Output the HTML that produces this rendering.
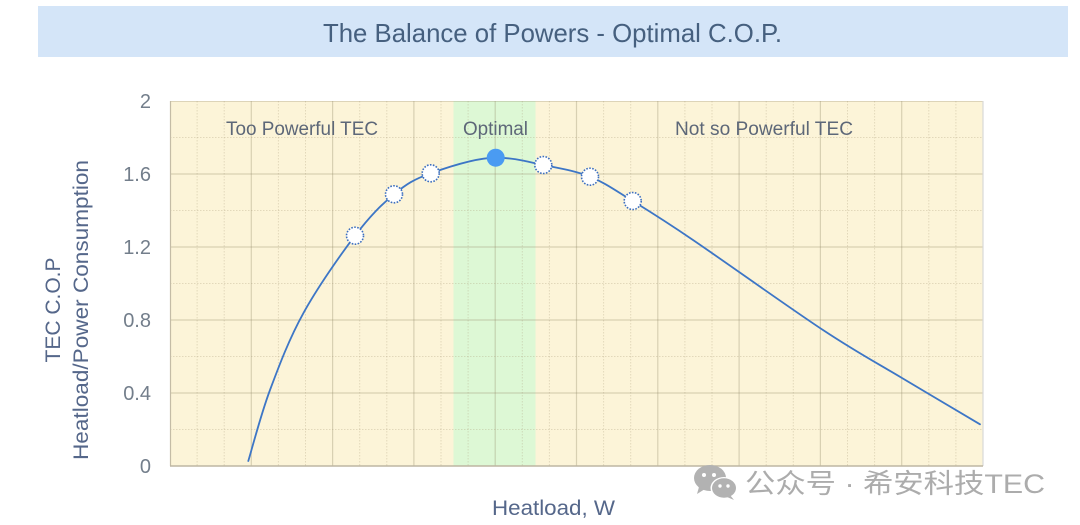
<!DOCTYPE html>
<html>
<head>
<meta charset="utf-8">
<style>
html,body{margin:0;padding:0;background:#ffffff;}
svg{display:block;}
text{font-family:"Liberation Sans","Noto Sans CJK SC",sans-serif;}
</style>
</head>
<body>
<svg width="1080" height="525" viewBox="0 0 1080 525" xmlns="http://www.w3.org/2000/svg">
  <!-- title banner -->
  <rect x="38" y="6" width="1030" height="51" fill="#d4e5f8"/>
  <text x="323" y="42" font-size="26" fill="#46607f" textLength="459" lengthAdjust="spacingAndGlyphs">The Balance of Powers - Optimal C.O.P.</text>

  <!-- plot background -->
  <rect x="170" y="101" width="813" height="365" fill="#fcf4d8"/>
  <rect x="453.5" y="101" width="82" height="365" fill="#ddf8d5"/>

  <!-- minor grid (dotted) -->
  <g stroke="rgba(170,160,125,0.32)" stroke-width="1" stroke-dasharray="1.5,1.5">
    <line x1="197.1" y1="101" x2="197.1" y2="466"/><line x1="224.2" y1="101" x2="224.2" y2="466"/>
    <line x1="278.4" y1="101" x2="278.4" y2="466"/><line x1="305.5" y1="101" x2="305.5" y2="466"/>
    <line x1="359.7" y1="101" x2="359.7" y2="466"/><line x1="386.8" y1="101" x2="386.8" y2="466"/>
    <line x1="441" y1="101" x2="441" y2="466"/><line x1="468.1" y1="101" x2="468.1" y2="466"/>
    <line x1="522.3" y1="101" x2="522.3" y2="466"/><line x1="549.4" y1="101" x2="549.4" y2="466"/>
    <line x1="603.6" y1="101" x2="603.6" y2="466"/><line x1="630.7" y1="101" x2="630.7" y2="466"/>
    <line x1="684.9" y1="101" x2="684.9" y2="466"/><line x1="712" y1="101" x2="712" y2="466"/>
    <line x1="766.2" y1="101" x2="766.2" y2="466"/><line x1="793.3" y1="101" x2="793.3" y2="466"/>
    <line x1="847.5" y1="101" x2="847.5" y2="466"/><line x1="874.6" y1="101" x2="874.6" y2="466"/>
    <line x1="928.8" y1="101" x2="928.8" y2="466"/><line x1="955.9" y1="101" x2="955.9" y2="466"/>
    <line x1="170" y1="137.5" x2="983" y2="137.5"/>
    <line x1="170" y1="210.5" x2="983" y2="210.5"/>
    <line x1="170" y1="283.5" x2="983" y2="283.5"/>
    <line x1="170" y1="356.5" x2="983" y2="356.5"/>
    <line x1="170" y1="429.5" x2="983" y2="429.5"/>
  </g>
  <!-- major grid -->
  <g stroke="rgba(150,140,110,0.35)" stroke-width="1.2">
    <line x1="251.3" y1="101" x2="251.3" y2="466"/>
    <line x1="332.6" y1="101" x2="332.6" y2="466"/>
    <line x1="413.9" y1="101" x2="413.9" y2="466"/>
    <line x1="495.2" y1="101" x2="495.2" y2="466"/>
    <line x1="576.5" y1="101" x2="576.5" y2="466"/>
    <line x1="657.8" y1="101" x2="657.8" y2="466"/>
    <line x1="739.1" y1="101" x2="739.1" y2="466"/>
    <line x1="820.4" y1="101" x2="820.4" y2="466"/>
    <line x1="901.7" y1="101" x2="901.7" y2="466"/>
    <line x1="170" y1="174" x2="983" y2="174"/>
    <line x1="170" y1="247" x2="983" y2="247"/>
    <line x1="170" y1="320" x2="983" y2="320"/>
    <line x1="170" y1="393" x2="983" y2="393"/>
  </g>
  <!-- borders -->
  <line x1="170" y1="101.5" x2="983" y2="101.5" stroke="rgba(150,140,110,0.3)" stroke-width="1"/>
  <line x1="983" y1="101" x2="983" y2="466" stroke="#d9d9d9" stroke-width="1.2"/>
  <line x1="170.5" y1="101" x2="170.5" y2="466" stroke="#c4bca6" stroke-width="1.2"/>
  <line x1="170" y1="466" x2="983" y2="466" stroke="#bdb6a2" stroke-width="1.4"/>

  <!-- tick labels -->
  <g font-size="20" fill="#737e8b" text-anchor="end">
    <text x="151" y="108">2</text>
    <text x="151" y="181">1.6</text>
    <text x="151" y="254">1.2</text>
    <text x="151" y="327">0.8</text>
    <text x="151" y="400">0.4</text>
    <text x="151" y="473">0</text>
  </g>

  <!-- region labels -->
  <g font-size="19" fill="#5d6778">
    <text x="226" y="135" textLength="152" lengthAdjust="spacingAndGlyphs">Too Powerful TEC</text>
    <text x="463" y="135" textLength="65" lengthAdjust="spacingAndGlyphs">Optimal</text>
    <text x="675" y="135" textLength="178" lengthAdjust="spacingAndGlyphs">Not so Powerful TEC</text>
  </g>

  <!-- axis titles -->
  <text x="492" y="515" font-size="21" fill="#55678a" textLength="123" lengthAdjust="spacingAndGlyphs">Heatload, W</text>
  <text transform="translate(60,310) rotate(-90)" text-anchor="middle" font-size="21" fill="#55678a">TEC C.O.P</text>
  <text transform="translate(88,310) rotate(-90)" text-anchor="middle" font-size="21" fill="#55678a" textLength="300" lengthAdjust="spacingAndGlyphs">Heatload/Power Consumption</text>

  <!-- curve -->
  <path fill="none" stroke="#3d76c6" stroke-width="1.8" stroke-linecap="round"
    d="M248.3,461
       C251.9,449.2 260.8,414.6 270,390
       C279.2,365.4 289.1,339 303.3,313.3
       C317.5,287.6 339.9,255.5 355,235.7
       C370.1,215.9 381.4,204.7 394,194.3
       C406.6,183.9 413.7,179.4 430.7,173.3
       C447.7,167.2 476.9,157.7 495.7,157.7
       C514.5,157.7 527.6,161.8 543.3,165
       C559,168.2 575.1,170.7 590,176.7
       C604.9,182.7 615.5,190.5 632.7,201
       C649.9,211.6 661.3,218.5 693,240
       C724.7,261.5 788.2,307 823,330
       C857.8,353 875.8,362.3 902,378
       C928.2,393.7 967,416.6 980,424.3"/>

  <!-- hollow markers -->
  <g fill="#ffffff" stroke="#3d6fc0" stroke-width="1.6" stroke-dasharray="1.6,1.4">
    <circle cx="355" cy="235.7" r="8.5"/>
    <circle cx="394" cy="194.3" r="8.5"/>
    <circle cx="430.7" cy="173.3" r="8.5"/>
    <circle cx="543.3" cy="165" r="8.5"/>
    <circle cx="590" cy="176.7" r="8.5"/>
    <circle cx="632.7" cy="201" r="8.5"/>
  </g>
  <!-- optimal marker -->
  <circle cx="495.7" cy="157.7" r="9" fill="#4a9bf2"/>

  <!-- watermark -->
  <g>
    <ellipse cx="710" cy="478" rx="16" ry="13" fill="#b2b2b2"/>
    <path d="M699,487 L697,494 L705,489 Z" fill="#b2b2b2"/>
    <ellipse cx="724" cy="488" rx="13.5" ry="11" fill="#ffffff"/>
    <ellipse cx="724" cy="488" rx="12" ry="9.8" fill="#b2b2b2"/>
    <path d="M730,495 L734,500 L727,497 Z" fill="#b2b2b2"/>
    <circle cx="704" cy="475" r="2" fill="#ffffff"/>
    <circle cx="714" cy="475" r="2" fill="#ffffff"/>
    <circle cx="720" cy="486" r="1.7" fill="#ffffff"/>
    <circle cx="728" cy="486" r="1.7" fill="#ffffff"/>
  </g>
  <text x="745" y="493" font-size="27" fill="#acacac" textLength="300" lengthAdjust="spacingAndGlyphs" style='font-family:"Liberation Sans","Noto Sans CJK SC",sans-serif'>公众号 · 希安科技TEC</text>
</svg>
</body>
</html>
